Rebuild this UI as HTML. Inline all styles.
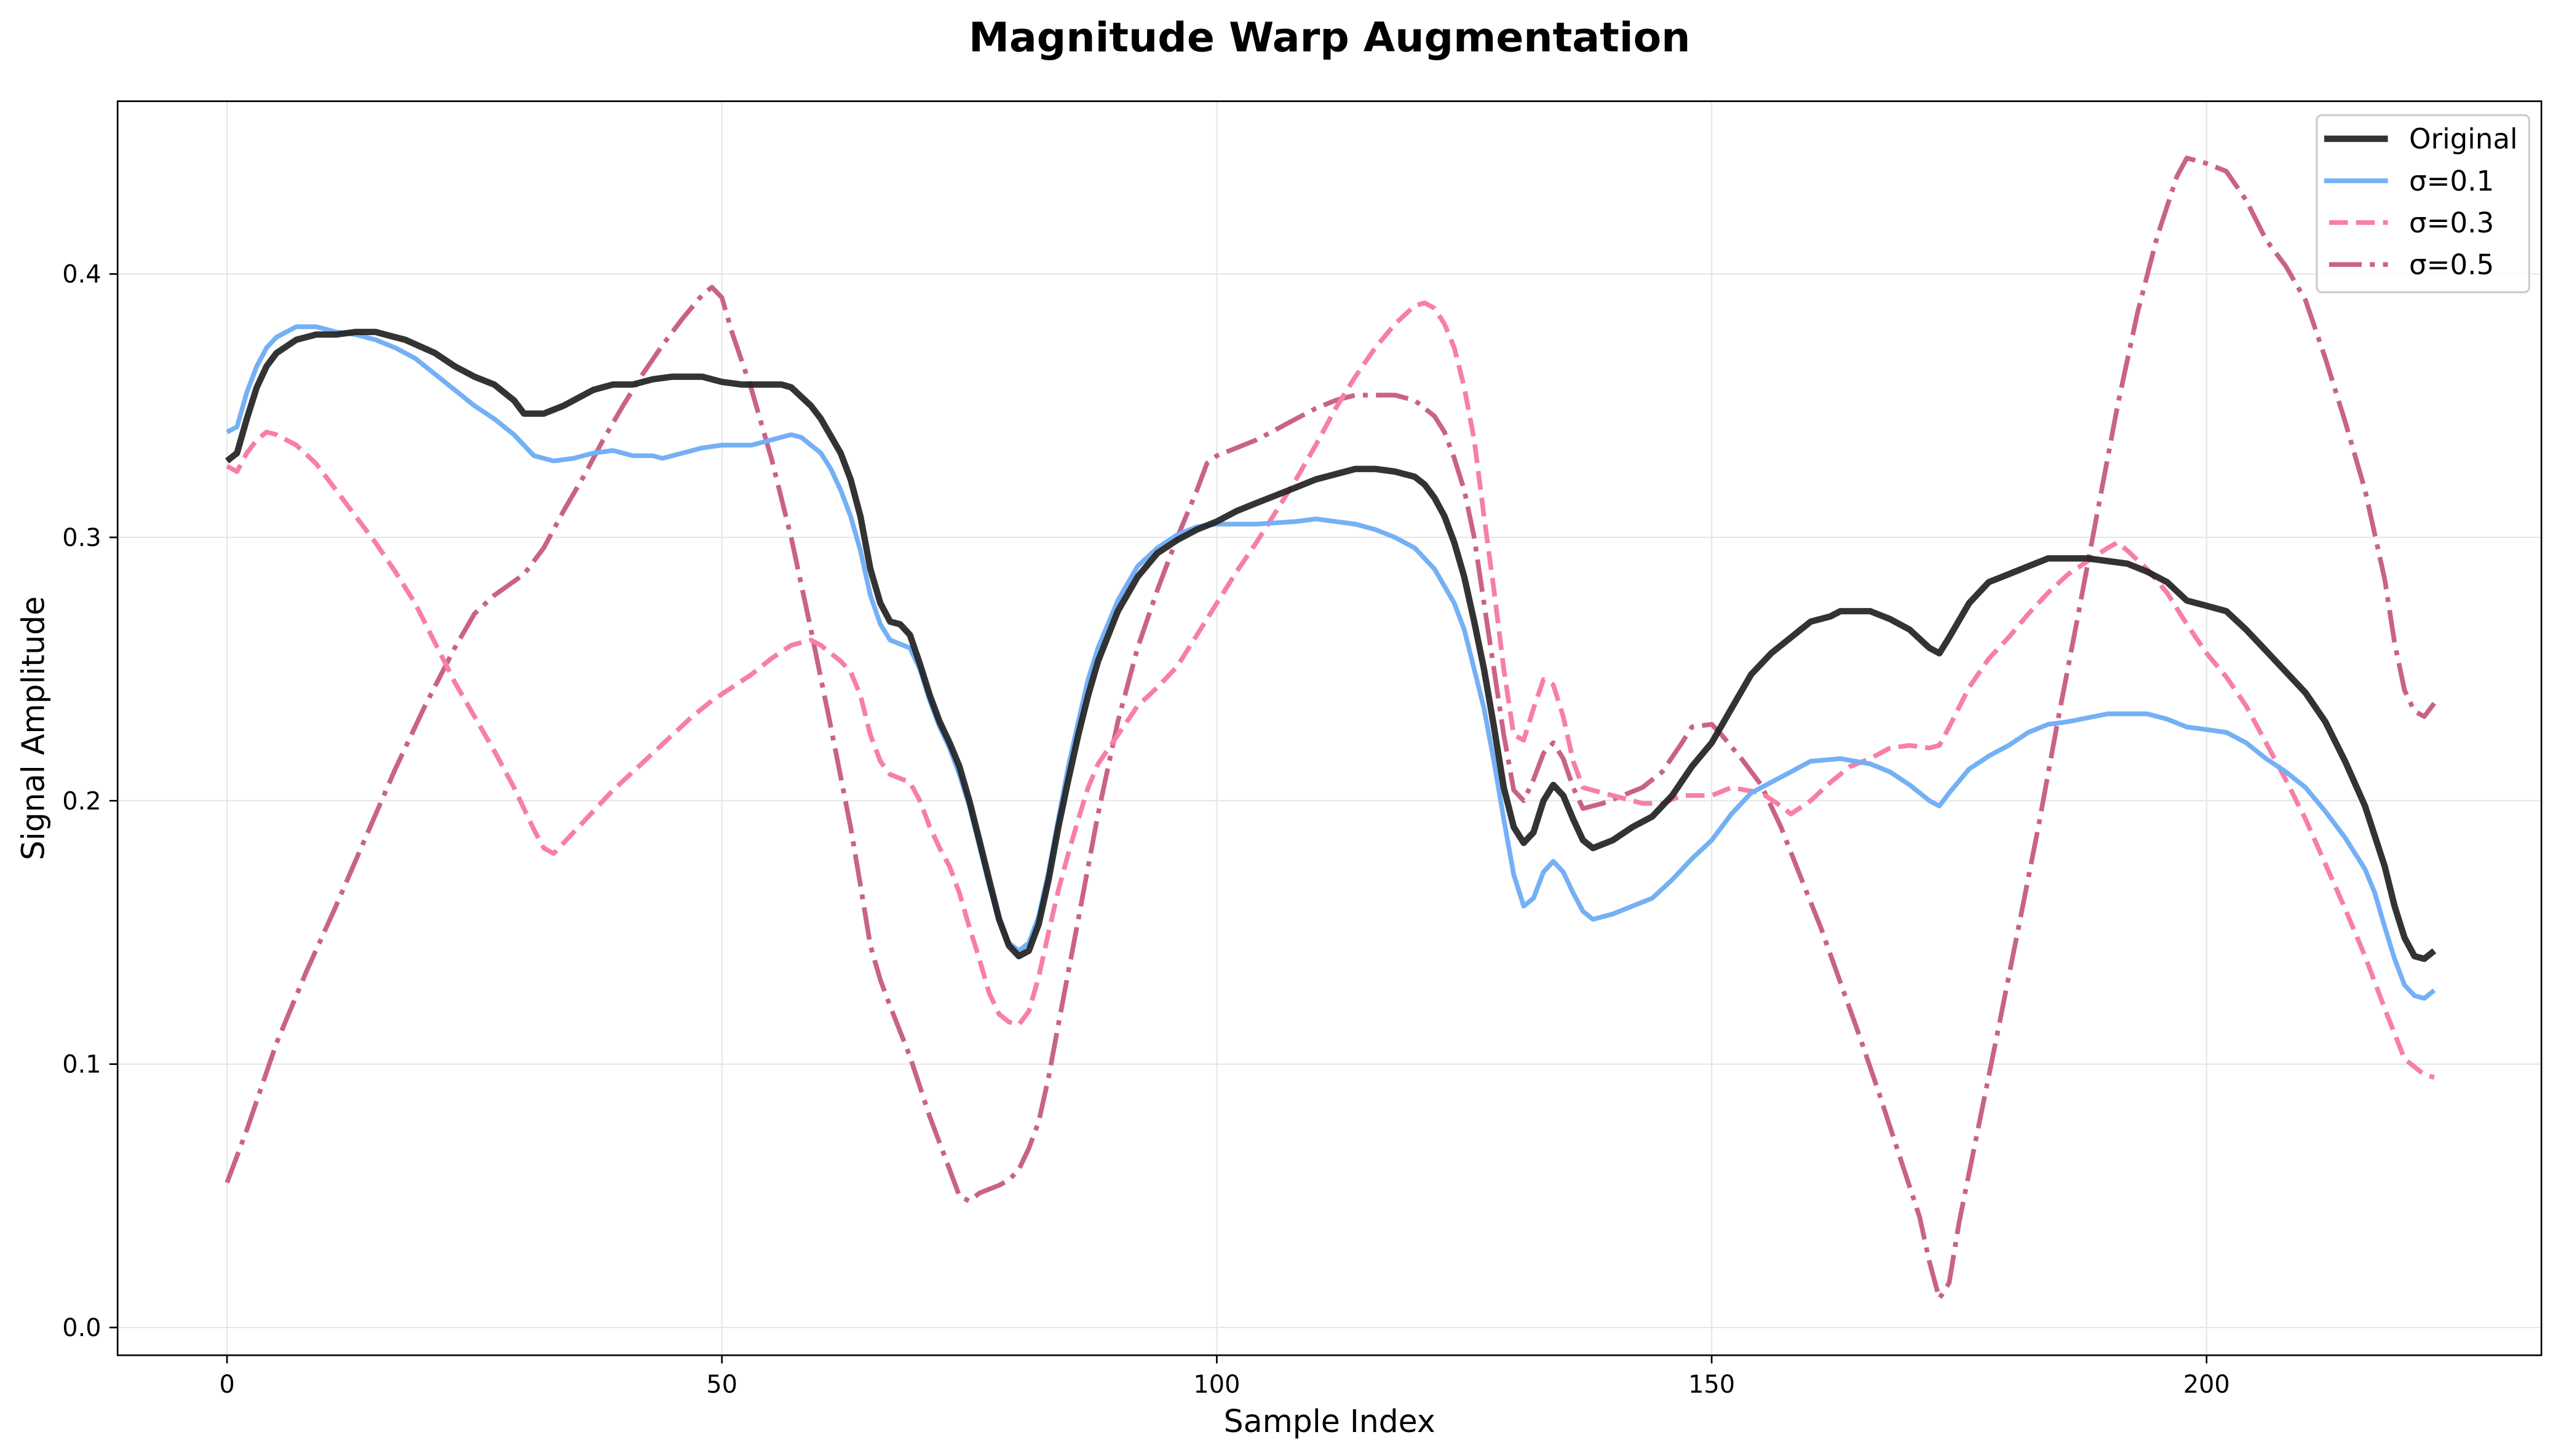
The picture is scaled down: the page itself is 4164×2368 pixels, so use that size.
<!DOCTYPE html>
<html><head><meta charset="utf-8"><style>
html,body{margin:0;padding:0;background:#fff}
svg{display:block}
text{font-family:"DejaVu Sans","Liberation Sans",sans-serif;fill:#000}
</style></head><body>
<svg id="s" width="4164" height="2368" viewBox="0 0 1568 891.7" xmlns="http://www.w3.org/2000/svg">
<rect width="1568" height="892" fill="#fff"/>
<g id="grid" stroke="#e6e6e6" stroke-width="0.8"></g>
<g id="lines" fill="none" stroke-linejoin="round"></g>
<rect x="72" y="62" width="1484" height="768" fill="none" stroke="#000" stroke-width="1"/>
<g id="ticks"></g>
<text x="814" y="31.5" text-anchor="middle" font-size="25" font-weight="bold">Magnitude Warp Augmentation</text>
<text x="814" y="877" text-anchor="middle" font-size="19">Sample Index</text>
<text transform="translate(27,446) rotate(-90)" text-anchor="middle" font-size="19">Signal Amplitude</text>
<g>
<rect x="1418.5" y="70.5" width="130" height="108.5" rx="3" fill="#fff" fill-opacity="0.8" stroke="#ccc" stroke-width="1.2"/>
<line x1="1423" y1="85" x2="1462" y2="85" stroke="#222" stroke-opacity="0.92" stroke-width="3.9"/>
<line x1="1423" y1="110.7" x2="1462" y2="110.7" stroke="#74b0f5" stroke-width="2.9"/>
<line x1="1426" y1="136.3" x2="1462" y2="136.3" stroke="#f77fa6" stroke-width="2.9" stroke-dasharray="11.5,5"/>
<line x1="1426" y1="162" x2="1462" y2="162" stroke="#c9628a" stroke-width="2.9" stroke-dasharray="20,5,3,5"/>
<text x="1475" y="91" font-size="17">Original</text>
<text x="1475" y="116.8" font-size="17">σ=0.1</text>
<text x="1475" y="142.4" font-size="17">σ=0.3</text>
<text x="1475" y="168" font-size="17">σ=0.5</text>
</g>
</svg>
<script>
var X=function(v){return 139+v*6.06},Y=function(v){return 813-v*1613};
var ns="http://www.w3.org/2000/svg";
function el(p,t,a,txt){var e=document.createElementNS(ns,t);for(var k in a)e.setAttribute(k,a[k]);if(txt!=null)e.textContent=txt;document.getElementById(p).appendChild(e);}
[0,50,100,150,200].forEach(function(v){var x=X(v);el("grid","line",{x1:x,x2:x,y1:62,y2:830});el("ticks","line",{x1:x,x2:x,y1:830,y2:835,stroke:"#000"});el("ticks","text",{x:x,y:853,"text-anchor":"middle","font-size":"15"},v);});
[0,0.1,0.2,0.3,0.4].forEach(function(v){var y=Y(v);el("grid","line",{x1:72,x2:1556,y1:y,y2:y});el("ticks","line",{x1:67,x2:72,y1:y,y2:y,stroke:"#000"});el("ticks","text",{x:62,y:y+5.3,"text-anchor":"end","font-size":"15"},v.toFixed(1));});
var D={
o:[0,.329,1,.332,2,.345,3,.357,4,.365,5,.370,7,.375,9,.377,11,.377,13,.378,15,.378,18,.375,21,.370,23,.365,25,.361,27,.358,29,.352,30,.347,32,.347,34,.350,37,.356,39,.358,41,.358,43,.360,45,.361,48,.361,50,.359,52,.358,56,.358,57,.357,59,.350,60,.345,62,.332,63,.322,64,.308,65,.288,66,.275,67,.268,68,.267,69,.263,70,.252,71,.240,72,.230,73,.222,74,.213,75,.200,76,.185,77,.170,78,.155,79,.145,80,.141,81,.143,82,.153,83,.170,84,.190,85,.208,86,.225,87,.240,88,.253,90,.272,92,.285,94,.294,96,.299,98,.303,100,.306,102,.310,104,.313,106,.316,108,.319,110,.322,112,.324,114,.326,116,.326,118,.325,120,.323,121,.320,122,.315,123,.308,124,.298,125,.285,126,.268,127,.250,128,.228,129,.205,130,.190,131,.184,132,.188,133,.200,134,.206,135,.202,136,.193,137,.185,138,.182,140,.185,142,.190,144,.194,146,.202,148,.213,150,.222,152,.235,154,.248,156,.256,158,.262,160,.268,162,.270,163,.272,166,.272,168,.269,170,.265,172,.258,173,.256,174,.262,176,.275,178,.283,180,.286,182,.289,184,.292,188,.292,192,.290,194,.287,196,.283,198,.276,200,.274,202,.272,204,.265,206,.257,208,.249,210,.241,212,.230,214,.215,216,.198,218,.175,219,.160,220,.148,221,.141,222,.140,223,.143],
b:[0,.340,1,.342,2,.355,3,.365,4,.372,5,.376,7,.380,9,.380,11,.378,13,.377,15,.375,17,.372,19,.368,21,.362,23,.356,25,.350,27,.345,29,.339,31,.331,33,.329,35,.330,37,.332,39,.333,41,.331,43,.331,44,.330,46,.332,48,.334,50,.335,53,.335,55,.337,57,.339,58,.338,60,.332,61,.326,62,.318,63,.308,64,.295,65,.278,66,.267,67,.261,69,.258,70,.250,71,.238,72,.228,73,.220,74,.210,75,.198,76,.183,77,.168,78,.155,79,.146,80,.143,81,.146,82,.156,83,.173,84,.193,85,.213,86,.230,87,.246,88,.258,90,.276,92,.289,94,.296,96,.301,98,.304,100,.305,104,.305,108,.306,110,.307,112,.306,114,.305,116,.303,118,.300,120,.296,122,.288,124,.275,125,.265,126,.250,127,.235,128,.215,129,.193,130,.172,131,.160,132,.163,133,.173,134,.177,135,.173,136,.165,137,.158,138,.155,140,.157,142,.160,144,.163,146,.170,148,.178,150,.185,152,.195,154,.203,156,.207,158,.211,160,.215,163,.216,166,.214,168,.211,170,.206,172,.200,173,.198,174,.203,176,.212,178,.217,180,.221,182,.226,184,.229,186,.230,190,.233,194,.233,196,.231,198,.228,200,.227,202,.226,204,.222,206,.216,208,.211,210,.205,212,.196,214,.186,216,.174,217,.165,218,.152,219,.140,220,.130,221,.126,222,.125,223,.128],
p:[0,.327,1,.325,2,.332,3,.337,4,.340,5,.339,7,.335,9,.328,11,.318,13,.308,15,.298,17,.287,19,.275,21,.260,23,.245,25,.232,27,.219,29,.205,31,.189,32,.182,33,.180,35,.188,37,.196,39,.204,41,.211,43,.218,45,.225,47,.232,49,.238,51,.243,53,.248,55,.254,57,.259,59,.261,60,.259,62,.253,63,.249,64,.240,65,.225,66,.215,67,.210,69,.207,70,.200,71,.190,72,.182,73,.175,74,.165,75,.152,76,.140,77,.127,78,.119,79,.116,80,.115,81,.120,82,.133,83,.150,84,.166,85,.180,86,.193,87,.205,88,.214,90,.225,92,.236,94,.243,96,.251,98,.263,100,.275,102,.287,104,.298,106,.310,108,.322,110,.335,112,.349,114,.361,116,.372,118,.381,120,.388,121,.389,122,.387,123,.381,124,.372,125,.357,126,.337,127,.308,128,.280,129,.250,130,.225,131,.223,132,.235,133,.246,134,.244,135,.232,136,.215,137,.205,139,.203,141,.201,143,.199,145,.199,147,.202,150,.202,152,.205,155,.203,157,.198,158,.195,160,.200,162,.207,164,.213,166,.216,168,.220,170,.221,172,.220,173,.221,174,.228,176,.243,178,.254,180,.262,182,.271,184,.279,186,.286,188,.291,190,.296,191,.298,192,.295,194,.288,196,.279,198,.267,200,.256,202,.247,204,.236,206,.222,208,.208,210,.193,212,.176,214,.159,216,.141,218,.121,220,.102,222,.096,223,.095],
d:[0,.055,2,.075,5,.108,8,.135,11,.160,14,.186,17,.212,20,.236,23,.258,25,.271,27,.278,30,.286,32,.296,34,.310,36,.323,38,.337,40,.350,42,.362,44,.373,46,.383,48,.392,49,.395,50,.391,51,.378,53,.356,55,.330,57,.300,59,.265,61,.228,63,.190,64,.168,65,.145,66,.132,67,.122,69,.103,71,.080,73,.060,74,.050,75,.048,76,.051,78,.054,79,.056,80,.060,81,.068,82,.078,83,.095,84,.115,86,.155,88,.195,90,.230,92,.258,94,.280,96,.300,98,.318,99,.328,100,.331,102,.334,104,.337,106,.341,108,.345,110,.349,112,.352,114,.354,116,.354,118,.354,120,.352,122,.346,123,.340,124,.330,125,.318,126,.300,127,.275,128,.250,129,.225,130,.204,131,.200,132,.208,133,.218,134,.222,135,.216,136,.205,137,.197,139,.199,141,.202,143,.205,145,.211,147,.222,148,.228,150,.229,151,.225,153,.216,155,.206,157,.190,159,.171,161,.152,163,.131,165,.110,167,.088,169,.065,171,.042,172,.025,173,.011,174,.017,175,.040,177,.077,179,.114,181,.152,183,.190,185,.231,187,.270,189,.310,191,.350,193,.385,195,.414,197,.437,198,.444,200,.442,202,.439,204,.428,206,.413,208,.403,210,.390,212,.368,214,.344,216,.318,218,.284,219,.260,220,.242,221,.234,222,.232,223,.237]};
function pts(a){var s=[];for(var i=0;i<a.length;i+=2)s.push(X(a[i]).toFixed(1)+","+Y(a[i+1]).toFixed(1));return s.join(" ");}
el("lines","polyline",{points:pts(D.d),stroke:"#c9628a","stroke-width":"2.9","stroke-dasharray":"20,5,3,5"});
el("lines","polyline",{points:pts(D.p),stroke:"#f77fa6","stroke-width":"2.9","stroke-dasharray":"11.5,5"});
el("lines","polyline",{points:pts(D.b),stroke:"#74b0f5","stroke-width":"2.9"});
el("lines","polyline",{points:pts(D.o),stroke:"#222","stroke-opacity":"0.92","stroke-width":"3.9"});
</script>
</body></html>
